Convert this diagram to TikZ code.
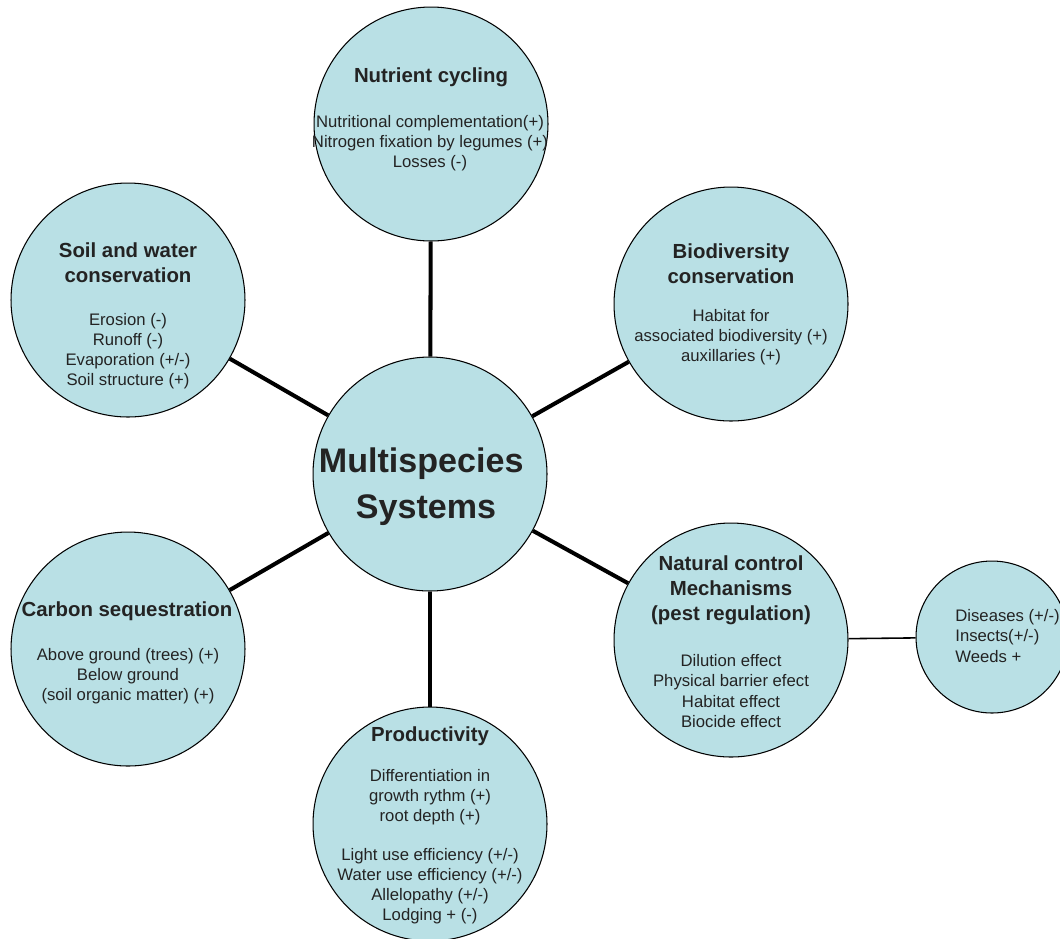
\documentclass[tikz,border=0pt]{standalone}
\usepackage{fontspec}
\setmainfont{Liberation Sans}
\usepackage{xcolor}
\usepackage{tikz}
\usetikzlibrary{shapes,arrows,positioning}
\definecolor{bubble}{RGB}{185,224,229}
\definecolor{ink}{RGB}{35,35,35}

\begin{document}
\begin{tikzpicture}
  [
    x=0.02cm, y=-0.02cm,
    Bubble/.style={circle, draw=black, fill=bubble, line width=0.6pt, minimum size=4.68cm, inner sep=0pt},
    Small/.style={circle, draw=black, fill=bubble, line width=0.6pt, minimum size=3.04cm, inner sep=0pt},
    Title/.style={align=center, text=ink, inner sep=0pt, font=\fontsize{11.6}{14.2}\selectfont\bfseries},
    Body/.style={align=center, text=ink, inner sep=0pt, font=\fontsize{9.5}{11.4}\selectfont},
    Hub/.style={align=center, text=ink, inner sep=0pt, font=\fontsize{19.4}{26}\selectfont\bfseries},
    Link/.style={line width=2.3pt},
    Thin/.style={line width=0.9pt}
  ]
  \useasboundingbox (0,0) rectangle (1060,938);
  % Circles
  \node[Bubble] (hub) at(430, 474) {};
  \node[Bubble] (nut) at(431, 124) {};
  \node[Bubble] (soil) at(128, 300) {};
  \node[Bubble] (bio) at(731, 304) {};
  \node[Bubble] (carb) at(128, 649) {};
  \node[Bubble] (pest) at(731, 640) {};
  \node[Bubble] (prod) at(430, 824) {};
  \node[Small] (pests) at(992, 637) {};
  % Lines
  \path [draw, Link] (hub) -- (nut);
  \path [draw, Link] (hub) -- (soil);
  \path [draw, Link] (hub) -- (bio);
  \path [draw, Link] (hub) -- (carb);
  \path [draw, Link] (hub) -- (pest);
  \path [draw, Link] (hub) -- (prod);
  \path [draw, Thin] (pest) -- (pests);
  % Texts
  \node[Hub] (hubtext) at(426, 487) {Multispecies\kern0.28em\\Systems};
  \node[Title] (nuttitle) at(431, 77) {Nutrient cycling};
  \node[Body] (nutbody) at(430, 143) {Nutritional complementation(+)\\Nitrogen fixation by legumes (+)\\Losses (-)};
  \node[Title] (soiltitle) at(128, 263) {Soil and water\\conservation};
  \node[Body] (soilbody) at(128, 351) {Erosion (-)\\Runoff (-)\\Evaporation (+/-)\\Soil structure (+)};
  \node[Title] (biotitle) at(731, 264) {Biodiversity\\conservation};
  \node[Body] (biobody) at(731, 337) {Habitat for\\associated biodiversity (+)\\auxillaries (+)};
  \node[Title] (carbtitle) at(127, 611) {Carbon sequestration};
  \node[Body] (carbbody) at(128, 676) {Above ground (trees) (+)\\Below ground\\(soil organic matter) (+)};
  \node[Title] (pesttitle) at(731, 590) {Natural control\\Mechanisms\\(pest regulation)};
  \node[Body] (pestbody) at(731, 691) {Dilution effect\\Physical barrier efect\\Habitat effect\\Biocide effect};
  \node[Body, align=left, anchor=west] (pestsbody) at(955, 636) {Diseases (+/-)\\Insects(+/-)\\Weeds +};
  \node[Title] (prodtitle) at(430, 736) {Productivity};
  \node[Body] (prodbody) at(430, 847) {Differentiation in\\growth rythm (+)\\root depth (+)\\[10.8pt]Light use efficiency (+/-)\\Water use efficiency (+/-)\\Allelopathy (+/-)\\Lodging + (-)};
\end{tikzpicture}
\end{document}
